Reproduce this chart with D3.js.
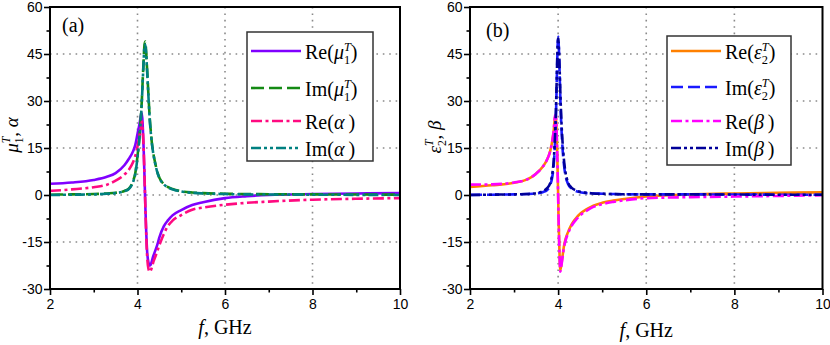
<!DOCTYPE html>
<html>
<head>
<meta charset="utf-8">
<script src="https://cdn.jsdelivr.net/npm/d3@7"></script>
<style>
body { margin: 0; background: #fff; }
svg { display: block; }
</style>
</head>
<body>
<div id="chart"></div>
<script>
// panel (a): frequency grid and the four curves
const freqA = [2, 2.5, 3, 3.3, 3.5, 3.7, 3.8, 3.9, 3.95, 4.0, 4.05, 4.08, 4.1, 4.12, 4.14, 4.16, 4.18, 4.2, 4.22, 4.25,
    4.28, 4.3, 4.33, 4.36, 4.4, 4.45, 4.5, 4.6, 4.7, 4.8, 5.0, 5.25, 5.5, 6.0, 6.5, 7, 8, 9, 10];
const reMu1 = [3.6, 4.0, 4.8, 5.8, 7.0, 9.5, 11.5, 14.0, 16.0, 19.5, 23.0, 25.5, 26.2, 22.0, 15.0, 6.0, -4.0, -12.0, -18.0, -21.5,
    -22.5, -22.3, -21.0, -19.5, -18.0, -16.0, -13.5, -10.0, -8.0, -6.5, -4.8, -3.2, -2.3, -1.0, -0.4, 0.0, 0.3, 0.5, 0.6];
const imMu1 = [0.1, 0.2, 0.3, 0.5, 0.7, 1.3, 2.0, 4.5, 7.0, 12.5, 19.5, 25.5, 30.5, 37.0, 43.0, 48.0, 49.0, 45.0, 40.0, 32.0,
    24.5, 21.0, 16.5, 13.5, 10.5, 7.5, 5.5, 3.5, 2.5, 1.9, 1.2, 0.8, 0.6, 0.4, 0.3, 0.25, 0.2, 0.15, 0.1];
const reAlpha = [1.3, 1.8, 2.5, 3.3, 4.6, 6.5, 8.0, 10.5, 12.5, 15.5, 19.0, 21.5, 23.5, 21.0, 15.0, 6.0, -4.0, -13.0, -19.5, -23.5,
    -24.5, -24.2, -23.0, -21.5, -20.0, -18.0, -16.0, -12.5, -9.8, -8.2, -6.4, -4.7, -4.0, -3.1, -2.5, -2.1, -1.5, -1.2, -1.0];
const imAlpha = [0.0, 0.1, 0.2, 0.4, 0.6, 1.2, 1.9, 4.2, 6.7, 12.0, 19.0, 25.0, 30.0, 36.5, 42.5, 47.5, 48.0, 44.5, 39.5, 31.5,
    24.0, 20.5, 16.3, 13.3, 10.3, 7.4, 5.4, 3.4, 2.4, 1.8, 1.1, 0.7, 0.5, 0.3, 0.2, 0.15, 0.1, 0.05, 0.0];

// panel (b)
const freqB = [2, 2.5, 3, 3.3, 3.5, 3.65, 3.75, 3.82, 3.87, 3.9, 3.93, 3.95, 3.97, 3.99, 4.0, 4.01, 4.03, 4.05, 4.07, 4.1,
    4.13, 4.17, 4.22, 4.3, 4.4, 4.5, 4.65, 4.8, 5.0, 5.25, 5.5, 6.0, 6.5, 7, 8, 9, 10];
const reEps2 = [2.6, 3.1, 3.9, 5.0, 6.8, 9.0, 11.3, 14.0, 17.5, 20.5, 25.0, 24.5, 18.0, 7.0, 0.0, -7.0, -18.0, -24.0, -22.5, -19.5,
    -16.5, -14.0, -12.0, -9.5, -7.5, -6.0, -4.5, -3.4, -2.5, -1.8, -1.3, -0.5, -0.1, 0.2, 0.5, 0.7, 0.85];
const imEps2 = [0.05, 0.1, 0.2, 0.3, 0.5, 0.9, 1.6, 3.2, 6.0, 9.5, 17.0, 25.0, 37.0, 48.0, 50.5, 49.0, 41.0, 31.0, 23.0, 15.0,
    10.0, 6.0, 3.7, 2.1, 1.3, 0.9, 0.6, 0.5, 0.4, 0.3, 0.25, 0.2, 0.2, 0.2, 0.15, 0.1, 0.1];
const reBeta = [3.3, 3.4, 4.0, 5.0, 6.8, 9.0, 11.3, 14.0, 17.5, 20.5, 25.5, 25.0, 18.5, 7.0, 0.0, -7.5, -18.5, -24.5, -23.0, -20.0,
    -17.0, -14.5, -12.5, -10.0, -8.0, -6.5, -5.0, -3.8, -2.9, -2.2, -1.7, -1.0, -0.8, -0.7, -0.5, -0.3, -0.1];
const imBeta = [0.0, 0.1, 0.2, 0.3, 0.6, 1.2, 2.2, 3.8, 7.0, 11.0, 19.0, 27.0, 38.0, 48.0, 50.0, 49.0, 42.0, 33.0, 25.0, 17.0,
    11.5, 7.0, 4.2, 2.4, 1.5, 1.0, 0.7, 0.5, 0.4, 0.3, 0.25, 0.2, 0.2, 0.2, 0.15, 0.1, 0.1];

const xTicks = [2, 4, 6, 8, 10];
const xMinorTicks = [3, 5, 7, 9];
const yTicks = [-30, -15, 0, 15, 30, 45, 60];
const yMinorTicks = [-22.5, -7.5, 7.5, 22.5, 37.5, 52.5];
const xGrid = [4, 6, 8];
const yGrid = [-15, 0, 15, 30, 45];

const serif = "'Liberation Serif', 'Times New Roman', serif";
const sans = "'Liberation Sans', Arial, sans-serif";
const plotTop = 7;
const plotBottom = 289;

// parts: [kind, text]; kind n = normal, i = italic, sub, sup (stacked over the sub)
function richText(textSel, parts, size) {
    const small = size * 0.62;
    let shift = 0;
    parts.forEach(([kind, str]) => {
        const ts = textSel.append("tspan").text(str);
        let target = 0;
        if (kind === "i") {
            ts.attr("font-style", "italic");
        }
        if (kind === "sub") {
            target = size * 0.26;
            ts.attr("font-size", small);
        }
        if (kind === "sup") {
            target = -size * 0.4;
            ts.attr("font-size", small).attr("font-style", "italic").attr("dx", -small * 0.5);
        }
        if (target !== shift) {
            ts.attr("dy", target - shift);
        }
        shift = target;
    });
}

const panels = [
    {
        left: 50, right: 400, freq: freqA,
        tag: "(a)", tagX: 62, tagY: 32,
        yTitle: [["i", "μ"], ["sub", "1"], ["sup", "T"], ["n", ", "], ["i", "α"]],
        yTitleX: 18, yTitleY: 135, xTitleY: 334,
        legend: {x: 247, y: 32, w: 126, h: 129, rows: [51, 88, 121, 148]},
        series: [
            {values: reMu1, color: "#8000ff", dash: null,
                name: [["n", "Re("], ["i", "μ"], ["sub", "1"], ["sup", "T"], ["n", ")"]]},
            {values: imMu1, color: "#148a14", dash: "13 5",
                name: [["n", "Im("], ["i", "μ"], ["sub", "1"], ["sup", "T"], ["n", ")"]]},
            {values: reAlpha, color: "#ff0a80", dash: "11 3.5 3 3.5",
                name: [["n", "Re("], ["i", "α"], ["n", "\u2009)"]]},
            {values: imAlpha, color: "#008080", dash: "10 3 3 3 3 3",
                name: [["n", "Im("], ["i", "α"], ["n", "\u2009)"]]},
        ],
    },
    {
        left: 470, right: 822.5, freq: freqB,
        tag: "(b)", tagX: 486, tagY: 37,
        yTitle: [["i", "ε"], ["sub", "2"], ["sup", "T"], ["n", ", "], ["i", "β"]],
        yTitleX: 441, yTitleY: 137, xTitleY: 337,
        legend: {x: 667, y: 36, w: 124, h: 129, rows: [51, 87, 121, 148]},
        series: [
            {values: reEps2, color: "#ff8000", dash: null,
                name: [["n", "Re("], ["i", "ε"], ["sub", "2"], ["sup", "T"], ["n", ")"]]},
            {values: imEps2, color: "#1a1aff", dash: "12 5",
                name: [["n", "Im("], ["i", "ε"], ["sub", "2"], ["sup", "T"], ["n", ")"]]},
            {values: reBeta, color: "#ff00ff", dash: "11 3.5 3 3.5",
                name: [["n", "Re("], ["i", "β"], ["n", "\u2009)"]]},
            {values: imBeta, color: "#000099", dash: "10 3 3 3 3 3",
                name: [["n", "Im("], ["i", "β"], ["n", "\u2009)"]]},
        ],
    },
];

const svg = d3.select("#chart")
    .append("svg")
    .attr("width", 830)
    .attr("height", 345);

panels.forEach((panel, index) => {
    const x = d3.scaleLinear().domain([2, 10]).range([panel.left, panel.right]);
    const y = d3.scaleLinear().domain([-30, 60]).range([plotBottom, plotTop]);
    const g = svg.append("g");

    // dotted grid
    g.selectAll(".vgrid")
        .data(xGrid)
        .enter()
        .append("line")
        .attr("x1", (d) => x(d))
        .attr("x2", (d) => x(d))
        .attr("y1", plotTop)
        .attr("y2", plotBottom)
        .attr("stroke", "#8a8a8a")
        .attr("stroke-width", 1.6)
        .attr("stroke-dasharray", "1.6 4.8");
    g.selectAll(".hgrid")
        .data(yGrid)
        .enter()
        .append("line")
        .attr("x1", panel.left)
        .attr("x2", panel.right)
        .attr("y1", (d) => y(d))
        .attr("y2", (d) => y(d))
        .attr("stroke", "#8a8a8a")
        .attr("stroke-width", 1.6)
        .attr("stroke-dasharray", "1.6 4.8");

    const clipId = `clip-${index}`;
    svg.append("clipPath")
        .attr("id", clipId)
        .append("rect")
        .attr("x", panel.left)
        .attr("y", plotTop)
        .attr("width", panel.right - panel.left)
        .attr("height", plotBottom - plotTop);

    const line = d3.line()
        .x((d) => x(d[0]))
        .y((d) => y(d[1]))
        .curve(d3.curveMonotoneX);

    const curves = g.append("g").attr("clip-path", `url(#${clipId})`);
    panel.series.forEach((s) => {
        curves.append("path")
            .datum(panel.freq.map((f, i) => [f, s.values[i]]))
            .attr("fill", "none")
            .attr("stroke", s.color)
            .attr("stroke-width", 2.6)
            .attr("stroke-dasharray", s.dash)
            .attr("d", line);
    });

    // axes
    const styleAxis = (sel) => {
        sel.select(".domain").remove();
        sel.selectAll("line").attr("stroke", "#000").attr("stroke-width", 1.6);
        sel.selectAll("text")
            .style("font-family", sans)
            .style("font-size", "14px")
            .attr("fill", "#000");
    };
    const plain = (d) => String(d);
    g.append("g")
        .attr("transform", `translate(0, ${plotBottom})`)
        .call(d3.axisBottom(x).tickValues(xTicks).tickSize(6).tickPadding(4).tickFormat(plain))
        .call(styleAxis);
    g.append("g")
        .attr("transform", `translate(0, ${plotBottom})`)
        .call(d3.axisBottom(x).tickValues(xMinorTicks).tickSize(3.5).tickFormat(""))
        .call(styleAxis);
    g.append("g")
        .attr("transform", `translate(${panel.left}, 0)`)
        .call(d3.axisLeft(y).tickValues(yTicks).tickSize(6).tickPadding(1.5).tickFormat(plain))
        .call(styleAxis);
    g.append("g")
        .attr("transform", `translate(${panel.left}, 0)`)
        .call(d3.axisLeft(y).tickValues(yMinorTicks).tickSize(3.5).tickFormat(""))
        .call(styleAxis);

    g.append("rect")
        .attr("x", panel.left)
        .attr("y", plotTop)
        .attr("width", panel.right - panel.left)
        .attr("height", plotBottom - plotTop)
        .attr("fill", "none")
        .attr("stroke", "#000")
        .attr("stroke-width", 2);

    // legend
    const lg = panel.legend;
    g.append("rect")
        .attr("x", lg.x)
        .attr("y", lg.y)
        .attr("width", lg.w)
        .attr("height", lg.h)
        .attr("fill", "#fff")
        .attr("stroke", "#333")
        .attr("stroke-width", 1.5);
    panel.series.forEach((s, i) => {
        const rowY = lg.rows[i];
        g.append("line")
            .attr("x1", lg.x + 4)
            .attr("x2", lg.x + 54)
            .attr("y1", rowY)
            .attr("y2", rowY)
            .attr("stroke", s.color)
            .attr("stroke-width", 2.6)
            .attr("stroke-dasharray", s.dash);
        const t = g.append("text")
            .attr("x", lg.x + 58)
            .attr("y", rowY + 7.5)
            .attr("font-family", serif)
            .attr("font-size", 20)
            .attr("fill", "#000");
        richText(t, s.name, 20);
    });

    g.append("text")
        .attr("x", panel.tagX)
        .attr("y", panel.tagY)
        .attr("font-family", serif)
        .attr("font-size", 20)
        .text(panel.tag);

    const xt = g.append("text")
        .attr("x", (panel.left + panel.right) / 2)
        .attr("y", panel.xTitleY)
        .attr("text-anchor", "middle")
        .attr("font-family", serif)
        .attr("font-size", 20);
    richText(xt, [["i", "f"], ["n", ", GHz"]], 20);

    const yt = g.append("text")
        .attr("transform", `translate(${panel.yTitleX}, ${panel.yTitleY}) rotate(-90)`)
        .attr("text-anchor", "middle")
        .attr("font-family", serif)
        .attr("font-size", 19);
    richText(yt, panel.yTitle, 19);
});
</script>
</body>
</html>
